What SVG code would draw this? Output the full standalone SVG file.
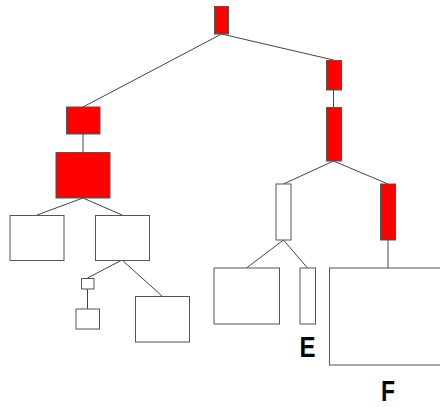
<svg xmlns="http://www.w3.org/2000/svg" width="440" height="407" viewBox="0 0 440 407">
<style>
.r{fill:#ff0000;stroke:#555;stroke-width:1}
.w{fill:#fff;stroke:#555;stroke-width:1}
.c line{stroke:#444;stroke-width:1}
.t{font-family:"Liberation Sans",Arial,sans-serif;font-weight:bold;font-size:29px;fill:#000;text-anchor:middle}
</style>
<rect width="440" height="407" fill="#fff"/>
<g class="c">
<line x1="221.5" y1="34" x2="333.5" y2="60"/>
<line x1="221.5" y1="34" x2="83" y2="107"/>
<line x1="333.5" y1="90" x2="333.5" y2="107"/>
<line x1="83" y1="134" x2="83" y2="152"/>
<line x1="83" y1="198" x2="37" y2="215"/>
<line x1="83" y1="198" x2="122" y2="215"/>
<line x1="122" y1="260" x2="87.5" y2="278"/>
<line x1="122" y1="260" x2="162" y2="296"/>
<line x1="87.5" y1="289" x2="87.5" y2="309"/>
<line x1="333.5" y1="161" x2="283.5" y2="184"/>
<line x1="333.5" y1="161" x2="388" y2="184"/>
<line x1="283.5" y1="240" x2="246.5" y2="268"/>
<line x1="283.5" y1="240" x2="307.5" y2="268"/>
<line x1="388" y1="240" x2="388" y2="268"/>
</g>
<g id="n1"><rect class="r" x="214.5" y="6.5" width="14" height="27.5"/></g>
<g id="n2"><rect class="r" x="326.5" y="60.5" width="15" height="29.5"/></g>
<g id="n3"><rect class="r" x="326.5" y="107.5" width="15" height="53.5"/></g>
<g id="n4"><rect class="r" x="66.5" y="107" width="33.5" height="27"/></g>
<g id="n5"><rect class="r" x="56" y="152.5" width="54" height="45.5"/></g>
<g id="n6"><rect class="w" x="10" y="215.5" width="54" height="45"/></g>
<g id="n7"><rect class="w" x="95.5" y="215.5" width="54" height="45"/></g>
<g id="n8"><rect class="w" x="81.5" y="278.5" width="12.5" height="10.5"/></g>
<g id="n9"><rect class="w" x="76" y="309" width="23.5" height="20"/></g>
<g id="n10"><rect class="w" x="135.5" y="296.5" width="54" height="45.5"/></g>
<g id="n11"><rect class="w" x="276" y="184" width="15" height="56"/></g>
<g id="n12"><rect class="r" x="380.5" y="184" width="15" height="56"/></g>
<g id="n13"><rect class="w" x="214" y="268" width="65.5" height="56"/></g>
<g id="n14"><rect class="w" x="300" y="268" width="15.5" height="56"/></g>
<g id="n15"><rect class="w" x="329.5" y="268" width="120" height="97"/></g>
<text class="t" x="307.5" y="357" textLength="16" lengthAdjust="spacingAndGlyphs">E</text>
<text class="t" x="388" y="401" textLength="14" lengthAdjust="spacingAndGlyphs">F</text>
</svg>
